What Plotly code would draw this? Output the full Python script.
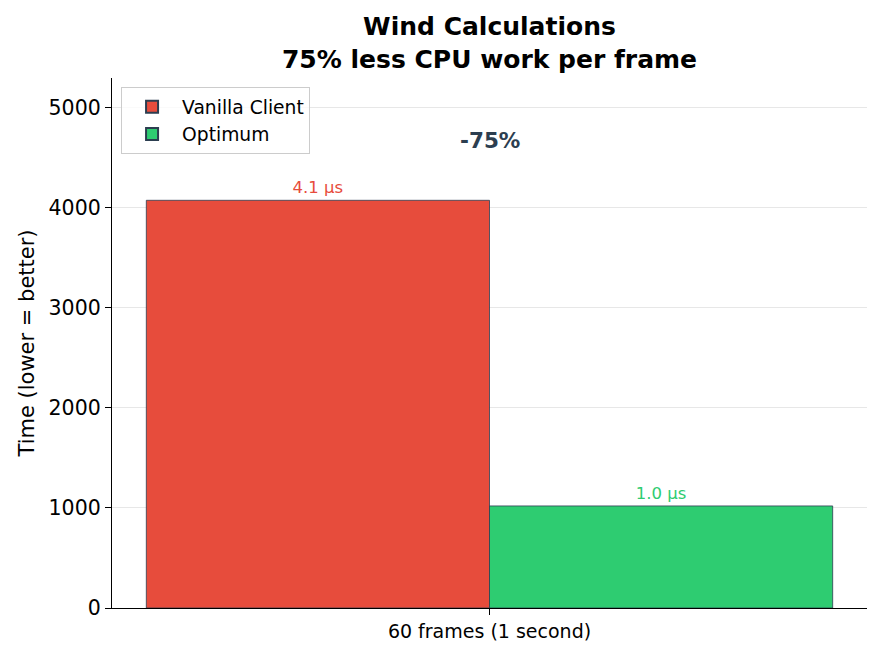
import plotly.graph_objects as go

categories = ["60 frames (1 second)"]
series_names = ["Vanilla Client", "Optimum"]
vanilla_values = [4075]
optimum_values = [1020]
series_colors = ["#e74c3c", "#2ecc71"]
ytick_vals = [0, 1000, 2000, 3000, 4000, 5000]
title_lines = ["Wind Calculations", "75% less CPU work per frame"]
ylabel = "Time (lower = better)"

edge = "#2c3e50"
font_family = "DejaVu Sans"

fig = go.Figure()
for name, vals, col in zip(series_names, [vanilla_values, optimum_values], series_colors):
    fig.add_trace(go.Bar(
        name=name, x=categories, y=vals,
        marker=dict(color=col, line=dict(color=edge, width=0.8)),
        text=[f"{v/1000:.1f} µs" for v in vals],
        textposition="outside", constraintext="none", cliponaxis=False,
        textfont=dict(color=col, size=16.5, family=font_family),
    ))

reduction = round((1 - optimum_values[0] / vanilla_values[0]) * 100)
ymax = max(vanilla_values) * 1.3
fig.add_annotation(
    x=categories[0], y=max(vanilla_values) * 1.146, xref="x", yref="y",
    text=f"<b>-{reduction}%</b>", showarrow=False,
    font=dict(size=21.5, color=edge, family=font_family),
)

W, H = 875, 649
fig.update_layout(
    width=W, height=H,
    margin=dict(l=104, r=16, t=70, b=49),
    paper_bgcolor="white", plot_bgcolor="white",
    font=dict(family=font_family, color="black", size=20),
    barmode="group", bargap=0.3, bargroupgap=0,
    title=dict(
        text="<b>" + "<br>".join(title_lines) + "</b>",
        x=(104 + 859) / 2 / W, xanchor="center",
        y=1 - 27 / H, yanchor="middle",
        font=dict(size=25, family=font_family, color="black"),
    ),
    legend=dict(
        x=0.012, y=0.983, xanchor="left", yanchor="top",
        bgcolor="rgba(255,255,255,0.8)", bordercolor="#cccccc", borderwidth=1,
        font=dict(size=18.7, family=font_family),
        itemsizing="constant", itemwidth=50, tracegroupgap=0,
    ),
    showlegend=True,
)
fig.update_xaxes(
    range=[-0.385, 0.385], showline=True, linecolor="black", linewidth=1.3,
    ticks="outside", ticklen=6, tickcolor="black", tickwidth=1.2,
    showgrid=False, tickfont=dict(size=19), mirror=False,
)
fig.update_yaxes(
    range=[0, ymax], tickvals=ytick_vals, showline=True, linecolor="black", linewidth=1.3,
    ticks="outside", ticklen=6, tickcolor="black", tickwidth=1.2,
    showgrid=True, gridcolor="rgba(176,176,176,0.3)", gridwidth=1.2,
    zeroline=False, layer="above traces", mirror=False,
    title=dict(text=ylabel, font=dict(size=21), standoff=8),
    tickfont=dict(size=20.5),
)

fig.write_html("out.html")
